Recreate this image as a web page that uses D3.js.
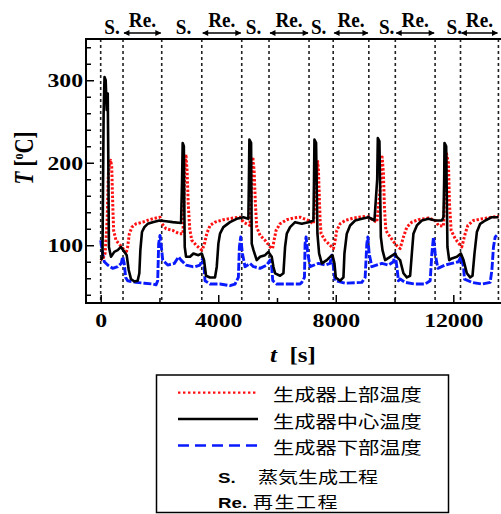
<!DOCTYPE html>
<html>
<head>
<meta charset="utf-8">
<script src="https://cdn.jsdelivr.net/npm/d3@7"></script>
<style>
  html, body { margin: 0; padding: 0; background: #fff; }
  svg { display: block; }
  .serif { font-family: "Liberation Serif", "Times New Roman", serif; font-weight: bold; }
  .cjk { font-family: "Noto Sans CJK JP", "Noto Sans", sans-serif; }
  .sans { font-family: "Liberation Sans", Arial, sans-serif; font-weight: bold; }
</style>
</head>
<body>
<svg id="chart" width="501" height="514"></svg>
<script>
  'use strict';

  // generator temperatures [time s, T degC]
  var topTemp = [
    [0,84],[60,82],[150,90],[220,130],[260,185],[300,200],[340,203],[375,195],[410,150],[440,118],
    [520,106],[640,101],[760,96],[860,90],[918,98],[975,114],[1065,122],[1200,126],[1430,128],[1655,131],
    [1883,133],[2020,134],[2087,126],[2223,120],[2450,118],[2677,114],[2800,114],[2860,190],[2900,210],[2940,190],
    [2980,150],[3030,120],[3100,106],[3250,100],[3440,94],[3520,100],[3610,114],[3720,124],[3890,128],[4175,131],
    [4515,133],[4743,134],[4855,128],[4971,126],[5080,124],[5140,180],[5175,207],[5220,191],[5265,150],[5310,122],
    [5424,112],[5594,106],[5765,98],[5850,96],[5900,106],[5969,118],[6105,126],[6333,131],[6558,133],[6786,134],
    [7070,130],[7240,126],[7330,170],[7380,203],[7410,191],[7467,130],[7500,114],[7637,106],[7807,100],[7920,96],
    [7960,102],[8035,118],[8148,126],[8318,130],[8600,133],[9000,135],[9135,134],[9282,130],[9397,128],[9520,170],
    [9580,207],[9622,187],[9656,146],[9704,118],[9850,110],[10020,102],[10112,98],[10190,96],[10303,110],[10418,122],
    [10589,128],[10814,131],[11155,133],[11383,130],[11495,124],[11665,123],[11730,180],[11768,211],[11835,199],[11870,150],
    [11927,118],[12063,108],[12233,100],[12290,98],[12404,114],[12495,124],[12687,130],[12972,132],[13313,134],[13540,135]
  ];
  var centerTemp = [
    [0,82],[60,85],[100,260],[130,304],[170,300],[204,264],[240,284],[260,200],[280,98],[350,86],
    [463,92],[578,94],[690,98],[805,92],[885,88],[953,70],[1032,59],[1145,56],[1258,57],[1315,66],
    [1350,94],[1405,116],[1487,122],[1600,126],[1770,128],[2000,130],[2225,129],[2450,128],[2735,127],[2770,180],
    [2790,224],[2830,220],[2845,150],[2860,98],[2905,86],[3040,86],[3155,90],[3325,88],[3440,90],[3517,82],
    [3585,63],[3720,61],[3890,61],[3950,74],[4005,102],[4060,114],[4175,122],[4400,128],[4630,132],[4855,134],
    [5025,132],[5045,180],[5060,228],[5118,224],[5130,160],[5140,102],[5200,94],[5310,82],[5424,86],[5594,88],
    [5707,92],[5820,86],[5877,74],[5935,66],[6105,63],[6218,66],[6275,98],[6333,114],[6445,122],[6616,128],
    [6843,126],[7070,128],[7240,130],[7260,180],[7274,228],[7330,224],[7376,114],[7433,90],[7525,78],[7695,82],
    [7807,86],[7887,88],[7955,78],[8000,61],[8148,57],[8261,61],[8295,90],[8375,114],[8488,124],[8660,130],
    [8887,132],[9112,134],[9316,130],[9410,180],[9431,230],[9486,226],[9534,110],[9590,94],[9680,82],[9850,86],
    [10020,90],[10078,86],[10190,82],[10303,66],[10418,61],[10531,63],[10589,90],[10643,114],[10760,124],[10930,130],
    [11155,132],[11383,130],[11610,130],[11665,134],[11690,180],[11700,224],[11757,220],[11800,98],[11860,82],[11950,84],
    [12121,86],[12257,90],[12347,82],[12461,66],[12574,61],[12653,63],[12721,90],[12802,116],[12914,126],[13085,130],
    [13313,134],[13540,134]
  ];
  var bottomTemp = [
    [0,106],[68,90],[123,80],[238,76],[408,72],[578,74],[700,78],[748,86],[800,78],[850,61],
    [918,57],[1200,55],[1487,54],[1770,53],[1883,52],[1940,57],[1973,102],[2020,112],[2065,98],[2110,82],
    [2280,76],[2507,78],[2650,86],[2735,82],[2905,76],[3130,74],[3210,74],[3380,76],[3473,84],[3517,74],
    [3550,57],[3720,53],[4060,53],[4400,51],[4573,53],[4685,61],[4720,98],[4766,110],[4822,90],[4913,74],
    [5083,78],[5200,74],[5424,72],[5651,76],[5765,82],[5820,74],[5855,57],[5992,53],[6445,53],[6786,53],
    [6843,55],[6934,61],[6956,102],[6990,110],[7048,90],[7127,74],[7410,78],[7637,76],[7807,78],[7864,88],
    [7920,74],[7977,57],[8318,54],[8887,55],[9000,61],[9057,102],[9091,110],[9135,90],[9228,74],[9568,78],
    [9792,76],[9963,80],[10020,90],[10078,74],[10133,57],[10190,59],[10360,55],[10700,53],[11042,53],[11213,57],
    [11270,90],[11325,110],[11383,90],[11474,72],[11723,76],[11950,78],[12176,80],[12257,86],[12347,74],[12381,59],
    [12632,55],[12972,53],[13255,55],[13313,70],[13367,98],[13425,110],[13480,112]
  ];

  // process boundaries (dashed lines), regeneration spans and steam labels
  var phaseLines = [0, 760, 2077, 3440, 4800, 5728, 7090, 7912, 9125, 10026, 11380, 12245, 13535];
  var reSpans = [[760,2077],[3440,4800],[5728,7090],[7912,9125],[10026,11380],[12245,13535]];
  var sLabelTimes = [385, 2819, 5203, 7416, 9731, 12030];

  var xTicks = [0, 2000, 4000, 6000, 8000, 10000, 12000];
  var xLabels = [0, 4000, 8000, 12000];
  var yTicks = d3.range(40, 341, 20);
  var yLabels = [100, 200, 300];

  var seriesNames = ['生成器上部温度', '生成器中心温度', '生成器下部温度'];
  var phaseKeys = ['S.', 'Re.'];
  var phaseNames = ['蒸気生成工程', '再生工程'];

  // the source picture is stretched sideways, so text gets the same stretch
  var sx = 1.25;
  var plot = {left: 86, right: 502, top: 39, bottom: 303};

  var svg = d3.select('#chart');

  var x = d3.scaleLinear().domain([-500, 13657]).range([plot.left, plot.right]);
  var y = d3.scaleLinear().domain([30, 350]).range([plot.bottom, plot.top]);

  function stretch(px, py, k) {
    return 'translate(' + px + ',' + py + ') scale(' + (k || sx) + ',1)';
  }

  svg.append('clipPath').attr('id', 'clip')
    .append('rect')
      .attr('x', plot.left).attr('y', plot.top)
      .attr('width', plot.right - plot.left).attr('height', plot.bottom - plot.top);

  // dashed phase lines
  svg.append('g').selectAll('line')
      .data(phaseLines)
    .enter().append('line')
      .attr('x1', function (d) { return x(d); })
      .attr('x2', function (d) { return x(d); })
      .attr('y1', plot.top).attr('y2', plot.bottom)
      .attr('stroke', '#222')
      .attr('stroke-width', 1.6)
      .attr('stroke-dasharray', '3,3');

  var line = d3.line()
    .x(function (d) { return x(d[0]); })
    .y(function (d) { return y(d[1]); });

  var series = [
    {data: bottomTemp, color: '#0a1aff', width: 2.9, dash: '8,2'},
    {data: topTemp, color: '#ff1010', width: 3, dash: '2.4,1.8'},
    {data: centerTemp, color: '#000', width: 2.6, dash: null}
  ];

  var lines = svg.append('g').attr('clip-path', 'url(#clip)');
  series.forEach(function (s) {
    lines.append('path')
      .attr('d', line(s.data))
      .attr('fill', 'none')
      .attr('stroke', s.color)
      .attr('stroke-width', s.width)
      .attr('stroke-linejoin', 'round')
      .attr('stroke-dasharray', s.dash);
  });

  // axes, ticks pointing inward
  var yAxis = svg.append('g')
      .attr('class', 'serif')
      .attr('transform', 'translate(' + plot.left + ',0)')
      .call(d3.axisLeft(y).tickValues(yTicks).tickSize(-8).tickPadding(3)
        .tickFormat(function (d) { return yLabels.indexOf(d) >= 0 ? d : ''; }));
  yAxis.select('.domain').remove();
  yAxis.selectAll('.tick line')
      .attr('x2', function (d) { return yLabels.indexOf(d) >= 0 ? 8 : 5; })
      .attr('stroke-width', 1.5);
  yAxis.selectAll('.tick text')
      .attr('x', null).attr('dy', '0.35em')
      .attr('transform', 'translate(-3,0) scale(' + sx + ',1)')
      .attr('font-size', 19).attr('fill', '#000');

  var xAxis = svg.append('g')
      .attr('class', 'serif')
      .attr('transform', 'translate(0,' + plot.bottom + ')')
      .call(d3.axisBottom(x).tickValues(xTicks).tickSize(-8)
        .tickFormat(function (d) { return xLabels.indexOf(d) >= 0 ? d : ''; }));
  xAxis.select('.domain').remove();
  xAxis.selectAll('.tick line')
      .attr('y2', function (d) { return xLabels.indexOf(d) >= 0 ? -8 : -5; })
      .attr('stroke-width', 1.5);
  xAxis.selectAll('.tick text')
      .attr('y', null).attr('dy', null)
      .attr('transform', 'translate(0,24) scale(' + sx + ',1)')
      .attr('font-size', 19).attr('fill', '#000');

  // plot frame
  svg.append('rect')
      .attr('x', plot.left).attr('y', plot.top)
      .attr('width', plot.right - plot.left).attr('height', plot.bottom - plot.top)
      .attr('fill', 'none').attr('stroke', '#000').attr('stroke-width', 2);

  // axis titles
  var yTitle = svg.append('text')
      .attr('class', 'serif')
      .attr('font-size', 21)
      .attr('text-anchor', 'middle')
      .attr('transform', stretch(33, 158) + ' rotate(-90)');
  yTitle.append('tspan').attr('font-style', 'italic').text('T');
  yTitle.append('tspan').style('white-space', 'pre').text(' [');
  yTitle.append('tspan').attr('font-size', 12).attr('dy', -8).text('o');
  yTitle.append('tspan').attr('dy', 8).text('C]');

  var xTitle = svg.append('text')
      .attr('class', 'serif')
      .attr('font-size', 20)
      .attr('text-anchor', 'middle')
      .style('white-space', 'pre')
      .attr('transform', stretch(293, 362));
  xTitle.append('tspan').attr('font-style', 'italic').text('t');
  xTitle.append('tspan').text('  [s]');

  // process annotations above the plot
  var defs = svg.append('defs');
  defs.append('marker')
      .attr('id', 'arr')
      .attr('viewBox', '0 0 10 10')
      .attr('refX', 9).attr('refY', 5)
      .attr('markerWidth', 7).attr('markerHeight', 6)
      .attr('markerUnits', 'userSpaceOnUse')
      .attr('orient', 'auto-start-reverse')
    .append('path')
      .attr('d', 'M0,0L10,5L0,10z')
      .attr('fill', '#000');

  svg.append('g').selectAll('line')
      .data(reSpans)
    .enter().append('line')
      .attr('x1', function (d) { return x(d[0]) + 1; })
      .attr('x2', function (d) { return x(d[1]) - 1; })
      .attr('y1', 33).attr('y2', 33)
      .attr('stroke', '#000').attr('stroke-width', 1.4)
      .attr('marker-start', 'url(#arr)')
      .attr('marker-end', 'url(#arr)');

  svg.append('g').selectAll('text')
      .data(reSpans)
    .enter().append('text')
      .attr('class', 'serif')
      .attr('font-size', 20)
      .attr('text-anchor', 'middle')
      .attr('transform', function (d) { return stretch(x((d[0] + d[1]) / 2), 26.5, 0.96); })
      .text('Re.');

  svg.append('g').selectAll('text')
      .data(sLabelTimes)
    .enter().append('text')
      .attr('class', 'serif')
      .attr('font-size', 20)
      .attr('text-anchor', 'middle')
      .attr('transform', function (d) { return stretch(x(d), 33.5, 0.96); })
      .text('S.');

  // legend
  var legend = svg.append('g');
  legend.append('rect')
      .attr('x', 156.5).attr('y', 375)
      .attr('width', 292).attr('height', 137.5)
      .attr('fill', '#fff').attr('stroke', '#000').attr('stroke-width', 1.5);

  var legendStyles = [
    {color: '#ff1010', width: 2.2, dash: '2.4,2.6'},
    {color: '#000', width: 2.4, dash: null},
    {color: '#0a1aff', width: 2.6, dash: '11,6'}
  ];
  var rowY = [392.7, 419, 445.5];

  seriesNames.forEach(function (name, i) {
    legend.append('line')
      .attr('x1', 178).attr('x2', 258)
      .attr('y1', rowY[i]).attr('y2', rowY[i])
      .attr('stroke', legendStyles[i].color)
      .attr('stroke-width', legendStyles[i].width)
      .attr('stroke-dasharray', legendStyles[i].dash);
    legend.append('text')
      .attr('class', 'cjk')
      .attr('font-size', 17)
      .attr('transform', stretch(273, rowY[i] + 8.5))
      .text(name);
  });

  var keyY = [483, 508];
  var nameX = [258, 253];
  phaseKeys.forEach(function (k, i) {
    legend.append('text')
      .attr('class', 'sans')
      .attr('font-size', 15)
      .attr('transform', stretch(218, keyY[i]))
      .text(k);
    legend.append('text')
      .attr('class', 'cjk')
      .attr('font-size', 16)
      .attr('letter-spacing', i === 1 ? 1.2 : 0)
      .attr('transform', stretch(nameX[i], keyY[i]))
      .text(phaseNames[i]);
  });
</script>
</body>
</html>
